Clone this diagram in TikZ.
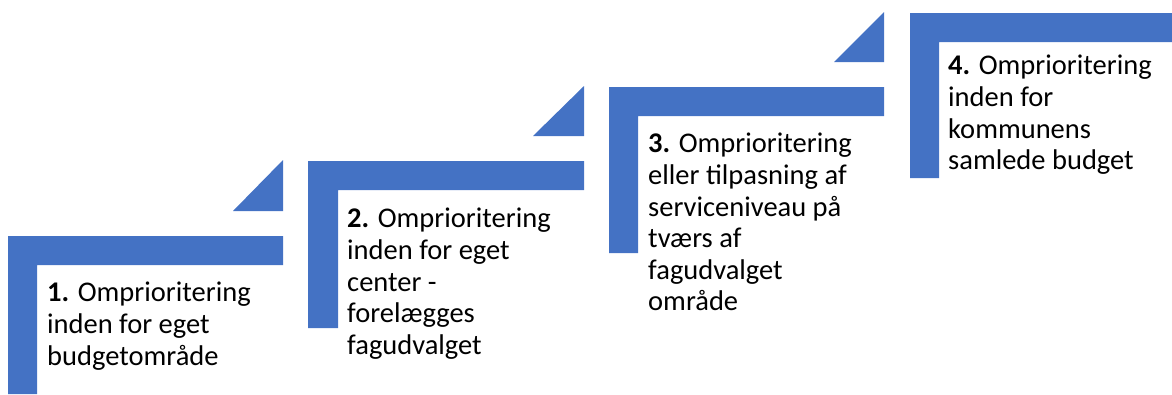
\documentclass[tikz,border=0pt]{standalone}
\usepackage{fontspec}
\setmainfont{Carlito}
\definecolor{stepblue}{HTML}{4472C4}
\tikzset{
  stepshape/.style={fill=stepblue, draw=none},
  steptext/.style={anchor=north west, inner sep=0pt, align=left, font=\fontsize{28.5}{31.6}\selectfont, text=black}
}
\begin{document}
\begin{tikzpicture}[x=1pt,y=-1pt]
\useasboundingbox (0,0) rectangle (1172,394);
% step 1
\path[stepshape] (8,236) -- (283,236) -- (283,265) -- (37,265) -- (37,394) -- (8,394) -- cycle;
\path[stepshape] (233,211) -- (283,211) -- (283,160) -- cycle;
% step 2
\path[stepshape] (308,161) -- (584,161) -- (584,190) -- (338,190) -- (338,328) -- (308,328) -- cycle;
\path[stepshape] (533,136) -- (584,136) -- (584,86) -- cycle;
% step 3
\path[stepshape] (609,87) -- (884,87) -- (884,116) -- (638,116) -- (638,253) -- (609,253) -- cycle;
\path[stepshape] (834,62) -- (884,62) -- (884,12) -- cycle;
% step 4
\path[stepshape] (910,13) -- (1172,13) -- (1172,42) -- (939,42) -- (939,178) -- (910,178) -- cycle;
% texts
\node[steptext] (t1) at (47,282) {\textbf{1.} Omprioritering\\inden for eget\\budgetområde};
\node[steptext] (t2) at (347,208) {\textbf{2.} Omprioritering\\inden for eget\\center -\\forelægges\\fagudvalget};
\node[steptext] (t3) at (648,133) {\textbf{3.} Omprioritering\\eller tilpasning af\\serviceniveau på\\tværs af\\fagudvalget\\område};
\node[steptext] (t4) at (948,55) {\textbf{4.} Omprioritering\\inden for\\kommunens\\samlede budget};
\end{tikzpicture}
\end{document}
